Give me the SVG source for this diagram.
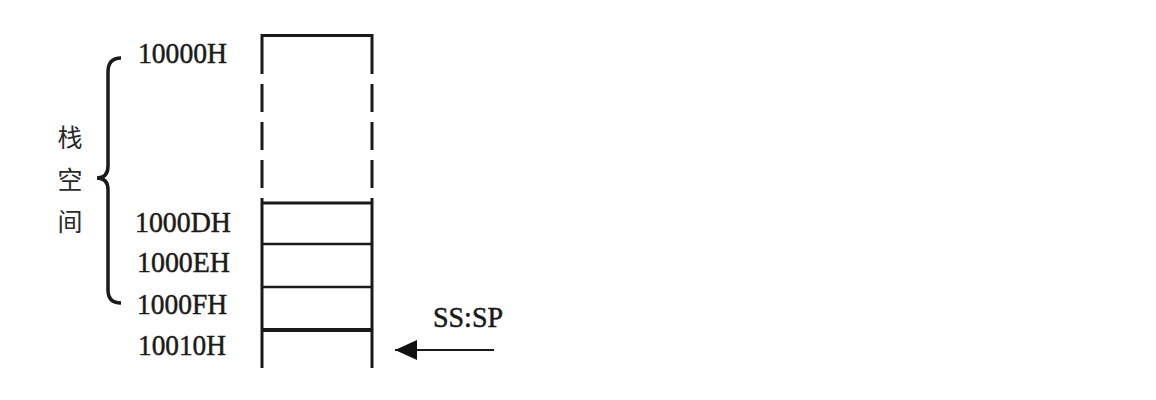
<svg xmlns="http://www.w3.org/2000/svg" width="1156" height="400" viewBox="0 0 1156 400">
<style>
.addr{font-family:"Liberation Serif","Times New Roman",serif;font-size:29px;fill:#1a1a1a;stroke:#1a1a1a;stroke-width:0.5}
.cjk{font-family:"Noto Sans CJK SC","Noto Sans CJK TC",sans-serif;font-size:25px;fill:#2a2a2a}
.ln{stroke:#1a1a1a;fill:none;stroke-linecap:butt}
</style>
<defs>
<marker id="ah" markerWidth="22" markerHeight="20" refX="22" refY="10" orient="auto" markerUnits="userSpaceOnUse" viewBox="0 0 22 20">
<path d="M0,0 L22,10 L0,20 Z" fill="#111"/>
</marker>
</defs>
<rect width="1156" height="400" fill="#ffffff"/>
<g id="stack">
<path class="ln" stroke-width="3" d="M262,74 L262,35.5 L372,35.5 L372,74"/>
<line class="ln" stroke-width="3" x1="262" y1="74" x2="262" y2="198" stroke-dasharray="0 10 28 10 28 10 28 10"/>
<line class="ln" stroke-width="3" x1="372" y1="74" x2="372" y2="198" stroke-dasharray="0 10 28 10 28 10 28 10"/>
<line class="ln" stroke-width="3" x1="262" y1="198" x2="262" y2="368"/>
<line class="ln" stroke-width="3" x1="372" y1="198" x2="372" y2="368"/>
<line class="ln" stroke-width="3" x1="262" y1="203" x2="372" y2="203"/>
<line class="ln" stroke-width="2.5" x1="262" y1="244" x2="372" y2="244"/>
<line class="ln" stroke-width="2.5" x1="262" y1="287" x2="372" y2="287"/>
<line class="ln" stroke-width="4" x1="262" y1="330" x2="372" y2="330"/>
</g>
<g id="labels">
<text class="addr" x="138" y="63" textLength="89" lengthAdjust="spacingAndGlyphs">10000H</text>
<text class="addr" x="135" y="232" textLength="96" lengthAdjust="spacingAndGlyphs">1000DH</text>
<text class="addr" x="137" y="272" textLength="93" lengthAdjust="spacingAndGlyphs">1000EH</text>
<text class="addr" x="137" y="314" textLength="90" lengthAdjust="spacingAndGlyphs">1000FH</text>
<text class="addr" x="138" y="355" textLength="88" lengthAdjust="spacingAndGlyphs">10010H</text>
</g>
<g id="brace">
<path class="ln" stroke-width="3.5" d="M121,58 Q108,58 108,72 L108,166 Q108,178 97,178 Q108,178 108,190 L108,290 Q108,303 121,303"/>
<text class="cjk" x="70" y="147" text-anchor="middle">栈</text>
<text class="cjk" x="70" y="189" text-anchor="middle">空</text>
<text class="cjk" x="70" y="231" text-anchor="middle">间</text>
</g>
<g id="pointer">
<text class="addr" x="433" y="327" textLength="70" lengthAdjust="spacingAndGlyphs">SS:SP</text>
</g>
<g id="connectors">
<line class="ln" stroke-width="2" x1="494" y1="350" x2="395" y2="350" marker-end="url(#ah)"/>
</g>
</svg>
